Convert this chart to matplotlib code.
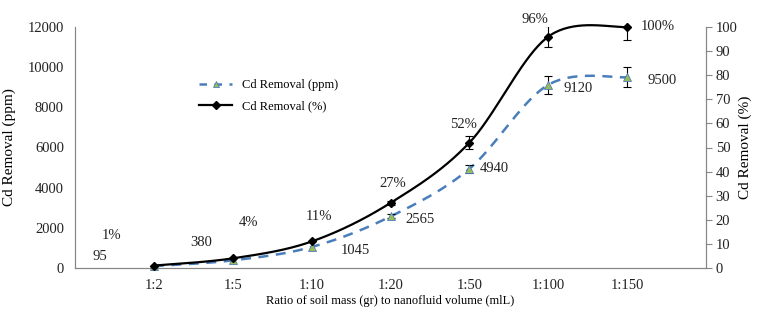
import numpy as np
import matplotlib
matplotlib.use('Agg')
import matplotlib.pyplot as plt
from matplotlib.lines import Line2D

plt.rcParams['font.family'] = ['Liberation Serif', 'DejaVu Serif']

ratios = ['1:2', '1:5', '1:10', '1:20', '1:50', '1:100', '1:150']
ppm = [95, 380, 1045, 2565, 4940, 9120, 9500]
pct = [1, 4, 11, 27, 52, 96, 100]
ppm_err = [0, 0, 0, 100, 200, 450, 500]
pct_err_lo = [0, 0, 0, 1, 2.7, 4.5, 5.5]
pct_err_hi = [0, 0, 0, 1, 2.7, 4.5, 1.5]
ppm_labels = ['95', '380', '1045', '2565', '4940', '9120', '9500']
pct_labels = ['1%', '4%', '11%', '27%', '52%', '96%', '100%']


def smooth(xs, ys, n=40):
    # excel-like smoothed line (catmull-rom bezier)
    xs = np.asarray(xs, float)
    ys = np.asarray(ys, float)
    px, py = [], []
    m = len(xs)
    for i in range(m - 1):
        i0 = max(i - 1, 0)
        i3 = min(i + 2, m - 1)
        p0 = np.array([xs[i], ys[i]])
        p3 = np.array([xs[i + 1], ys[i + 1]])
        c1 = p0 + (np.array([xs[i + 1], ys[i + 1]]) - np.array([xs[i0], ys[i0]])) / 6
        c2 = p3 - (np.array([xs[i3], ys[i3]]) - np.array([xs[i], ys[i]])) / 6
        t = np.linspace(0, 1, n)[:, None]
        b = (1 - t) ** 3 * p0 + 3 * (1 - t) ** 2 * t * c1 + 3 * (1 - t) * t ** 2 * c2 + t ** 3 * p3
        px.extend(b[:, 0])
        py.extend(b[:, 1])
    return px, py


x = np.arange(len(ratios))
blue = '#4a7ebb'
green = '#9bbb59'
gray = '#868686'

fig = plt.figure(figsize=(7.59, 3.12), dpi=100)
ax = fig.add_axes([75 / 759, 1 - 268 / 312, 631 / 759, 241 / 312])
ax2 = ax.twinx()

e = x >= 3
sx, sy = smooth(x, ppm)
ax.plot(sx, sy, color=blue, lw=1.8, ls=(0, (4, 3)), clip_on=False)
ax.errorbar(x[e], np.array(ppm)[e], yerr=np.array(ppm_err)[e], fmt='none',
            ecolor='black', elinewidth=0.8, capsize=3, capthick=0.8, zorder=3)
ax.plot(x, ppm, ls='none', marker='^', ms=5.5, mfc=green, mec=blue, mew=0.6,
        clip_on=False, zorder=4)

sx, sy = smooth(x, pct)
ax2.plot(sx, sy, color='black', lw=1.6, clip_on=False)
ax2.errorbar(x[e], np.array(pct)[e],
             yerr=[np.array(pct_err_lo)[e], np.array(pct_err_hi)[e]], fmt='none',
             ecolor='black', elinewidth=0.8, capsize=3, capthick=0.8, zorder=3)
ax2.plot(x, pct, ls='none', marker='D', ms=4, color='black', clip_on=False, zorder=4)

ax.set_xlim(-1, 7)
ax.set_ylim(0, 12000)
ax2.set_ylim(0, 100)
ax.set_xticks(x)
ax.set_xticklabels(ratios)
ax.set_yticks(range(0, 12001, 2000))
ax2.set_yticks(range(0, 101, 10))

for a in (ax, ax2):
    a.spines['top'].set_visible(False)
    for s in ('left', 'right', 'bottom'):
        a.spines[s].set_color(gray)
ax.tick_params(axis='both', length=0, labelsize=10.5, colors='#222222', pad=8)
ax2.tick_params(axis='y', length=4, color=gray, labelsize=10.5, labelcolor='#222222', pad=3)

ax.set_ylabel('Cd Removal (ppm)', fontsize=11, labelpad=8)
ax2.set_ylabel('Cd Removal (%)', fontsize=11, labelpad=1)
ax.set_xlabel('Ratio of soil mass (gr) to nanofluid volume (mlL)', fontsize=9, labelpad=2)

ppm_off = [(-54, 10), (-32, 18), (44, -3), (30, -3), (25, 0), (30, -4), (35, -3)]
pct_off = [(-42, 30), (16, 36), (7, 25), (2, 19), (-6, 18), (-13, 17), (31, 0)]
for i in range(len(x)):
    ax.annotate(ppm_labels[i], (x[i], ppm[i]), xytext=ppm_off[i], textcoords='offset pixels',
                ha='center', va='center', fontsize=10.5, color='#222222')
    ax2.annotate(pct_labels[i], (x[i], pct[i]), xytext=pct_off[i], textcoords='offset pixels',
                 ha='center', va='center', fontsize=10.5, color='#222222')

handles = [
    Line2D([], [], color=blue, lw=1.8, ls=(0, (3, 3)), marker='^', ms=5, mfc=green, mec=blue, mew=0.6),
    Line2D([], [], color='black', lw=1.6, marker='D', ms=4),
]
fig.legend(handles, ['Cd Removal (ppm)', 'Cd Removal (%)'], loc='upper left',
           bbox_to_anchor=(188 / 759, 1 - 68 / 312), frameon=False, fontsize=9,
           handlelength=2.6, labelspacing=0.7)

fig.savefig('out.png', dpi=100)
